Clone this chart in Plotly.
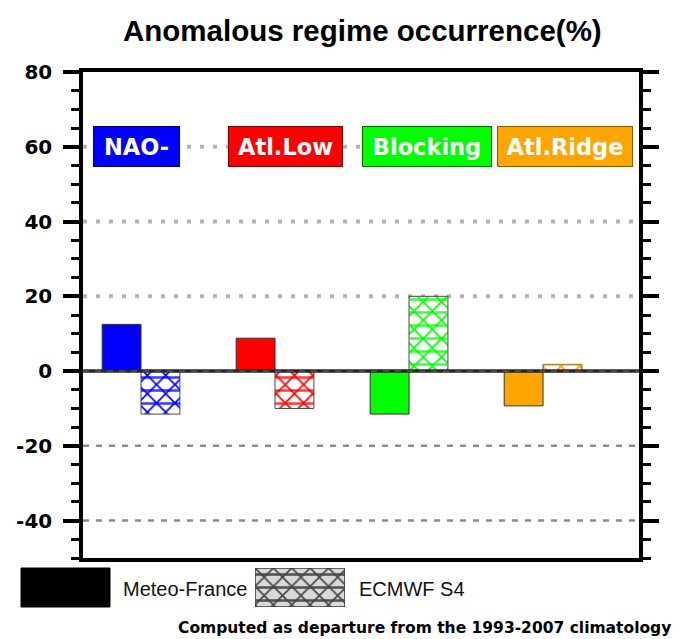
import plotly.graph_objects as go

# Regime anomalies (% departure from the 1993-2007 climatology)
regimes = ["NAO-", "Atl.Low", "Blocking", "Atl.Ridge"]
meteo_france = [12.5, 8.8, -11.5, -9.3]
ecmwf_s4 = [-11.5, -10.0, 20.0, 1.8]
regime_colors = ["#0000ff", "#ff0000", "#00ff00", "#ffa500"]
regime_edges = ["#00006e", "#7a0000", "#006e00", "#8a5a00"]
y_ticks = [-40, -20, 0, 20, 40, 60, 80]
dotted_grid = [20, 40, 60]
dashed_grid = [-40, -20]

W, H = 683, 639
LEFT, RIGHT, TOP, BOTTOM = 83, 639, 72, 558


def px(x):
    return x / W


def py(y):
    return 1 - y / H


BOLD = "DejaVu Sans"
SANS = "Liberation Sans"

fig = go.Figure()

fig.add_trace(go.Bar(
    x=regimes, y=meteo_france, name="Meteo-France", offsetgroup="mf",
    marker=dict(color=regime_colors, line=dict(color="#333333", width=1)),
    showlegend=False,
))
fig.add_trace(go.Bar(
    x=regimes, y=ecmwf_s4, name="ECMWF S4", offsetgroup="ec",
    marker=dict(
        color="white",
        line=dict(color="#444444", width=1),
        pattern=dict(shape="x", fgcolor=regime_colors, bgcolor="white",
                     size=13, solidity=0.25, fillmode="replace"),
    ),
    showlegend=False,
))
# horizontal strokes completing the triangular hatch
fig.add_trace(go.Bar(
    x=regimes, y=ecmwf_s4, name="ECMWF S4 hatch", offsetgroup="ec",
    marker=dict(
        color="rgba(255,255,255,0.02)",
        line=dict(width=0),
        pattern=dict(shape="-", fgcolor=regime_colors, fgopacity=0.75,
                     size=13, solidity=0.2, fillmode="overlay"),
    ),
    showlegend=False, hoverinfo="skip",
))

# legend swatch for the hatched series
fig.add_trace(go.Bar(
    x=[0], y=[1], width=[1], xaxis="x2", yaxis="y2", offsetgroup="sw",
    marker=dict(color="white", line=dict(color="#333333", width=1.5),
                pattern=dict(shape="x", fgcolor="#444444", bgcolor="#d8d8d8",
                             size=13, solidity=0.25, fillmode="replace")),
    showlegend=False, hoverinfo="skip",
))
fig.add_trace(go.Bar(
    x=[0], y=[1], width=[1], xaxis="x2", yaxis="y2", offsetgroup="sw",
    marker=dict(color="rgba(255,255,255,0.02)", line=dict(width=0),
                pattern=dict(shape="-", fgcolor="#444444", fgopacity=0.9,
                             size=13, solidity=0.2, fillmode="overlay")),
    showlegend=False, hoverinfo="skip",
))

shapes = []
for v in dotted_grid:
    shapes.append(dict(type="line", xref="paper", yref="y", x0=px(LEFT), x1=px(RIGHT),
                       y0=v, y1=v, layer="below",
                       line=dict(color="#b4b4b4", width=4, dash="4px,9px")))
for v in dashed_grid:
    shapes.append(dict(type="line", xref="paper", yref="y", x0=px(LEFT), x1=px(RIGHT),
                       y0=v, y1=v, layer="below",
                       line=dict(color="#8c8c8c", width=2.5, dash="6px,7px")))
# zero reference line
shapes.append(dict(type="line", xref="paper", yref="y", x0=px(LEFT), x1=px(RIGHT),
                   y0=0, y1=0, layer="above", line=dict(color="#262626", width=3.5)))
shapes.append(dict(type="line", xref="paper", yref="y", x0=px(LEFT), x1=px(RIGHT),
                   y0=0, y1=0, layer="above",
                   line=dict(color="#6a6a6a", width=1, dash="6px,6px")))
# legend swatch for the solid series
shapes.append(dict(type="rect", xref="paper", yref="paper",
                   x0=px(21), x1=px(110), y0=py(607), y1=py(568),
                   fillcolor="black", line=dict(color="black", width=1)))

annotations = []
# regime name boxes along the 60% line
label_x = [-0.034, 1.078, 2.134, 3.164]
label_w = [87, 115, 130, 136]
for name, lx, lw, c, e in zip(regimes, label_x, label_w, regime_colors, regime_edges):
    annotations.append(dict(
        x=lx, y=60, xref="x", yref="y", text=name, showarrow=False,
        font=dict(family=BOLD, size=22.5, color="white", weight="bold"),
        bgcolor=c, bordercolor=e, borderwidth=1, borderpad=0,
        width=lw - 2, height=39, align="center", valign="middle",
    ))

annotations.append(dict(
    x=px(362), y=py(30), xref="paper", yref="paper",
    text="Anomalous regime occurrence(%)", showarrow=False,
    font=dict(family=SANS, size=29.5, color="black", weight="bold"),
    xanchor="center", yanchor="middle",
))
annotations.append(dict(
    x=px(121), y=py(589), xref="paper", yref="paper", text="Meteo-France",
    showarrow=False, font=dict(family=SANS, size=20, color="#111111"),
    xanchor="left", yanchor="middle",
))
annotations.append(dict(
    x=px(357), y=py(589), xref="paper", yref="paper", text="ECMWF S4",
    showarrow=False, font=dict(family=SANS, size=20, color="#111111"),
    xanchor="left", yanchor="middle",
))
annotations.append(dict(
    x=px(673), y=py(628), xref="paper", yref="paper",
    text="Computed as departure from the 1993-2007 climatology",
    showarrow=False, font=dict(family=BOLD, size=15.5, color="black", weight="bold"),
    xanchor="right", yanchor="middle",
))

fig.update_layout(
    width=W, height=H,
    margin=dict(l=0, r=0, t=0, b=0, autoexpand=False),
    paper_bgcolor="white", plot_bgcolor="white",
    barmode="group", bargap=0.42, bargroupgap=0,
    showlegend=False,
    shapes=shapes, annotations=annotations,
    xaxis=dict(
        domain=[px(LEFT), px(RIGHT)], range=[-0.433, 3.716],
        showline=True, linecolor="black", linewidth=3.5, mirror=True,
        showticklabels=False, ticks="", showgrid=False, zeroline=False,
        fixedrange=True, automargin=False,
    ),
    yaxis=dict(
        domain=[py(BOTTOM), py(TOP)], range=[-50, 80],
        tickvals=y_ticks, ticktext=[str(t) for t in y_ticks],
        ticks="outside", ticklen=16, tickwidth=3.5, tickcolor="black",
        minor=dict(dtick=5, ticks="outside", ticklen=8, tickwidth=2.5,
                   tickcolor="black", showgrid=False),
        showline=True, linecolor="black", linewidth=3.5, mirror="ticks",
        showgrid=False, zeroline=False, ticklabelstandoff=7,
        tickfont=dict(family=BOLD, size=20, color="black", weight="bold"),
        fixedrange=True, automargin=False,
    ),
    xaxis2=dict(domain=[px(255), px(345)], range=[-0.5, 0.5], visible=False,
                anchor="y2", fixedrange=True),
    yaxis2=dict(domain=[py(607), py(568)], range=[0, 1], visible=False,
                anchor="x2", fixedrange=True),
)

fig.write_html("out.html")
